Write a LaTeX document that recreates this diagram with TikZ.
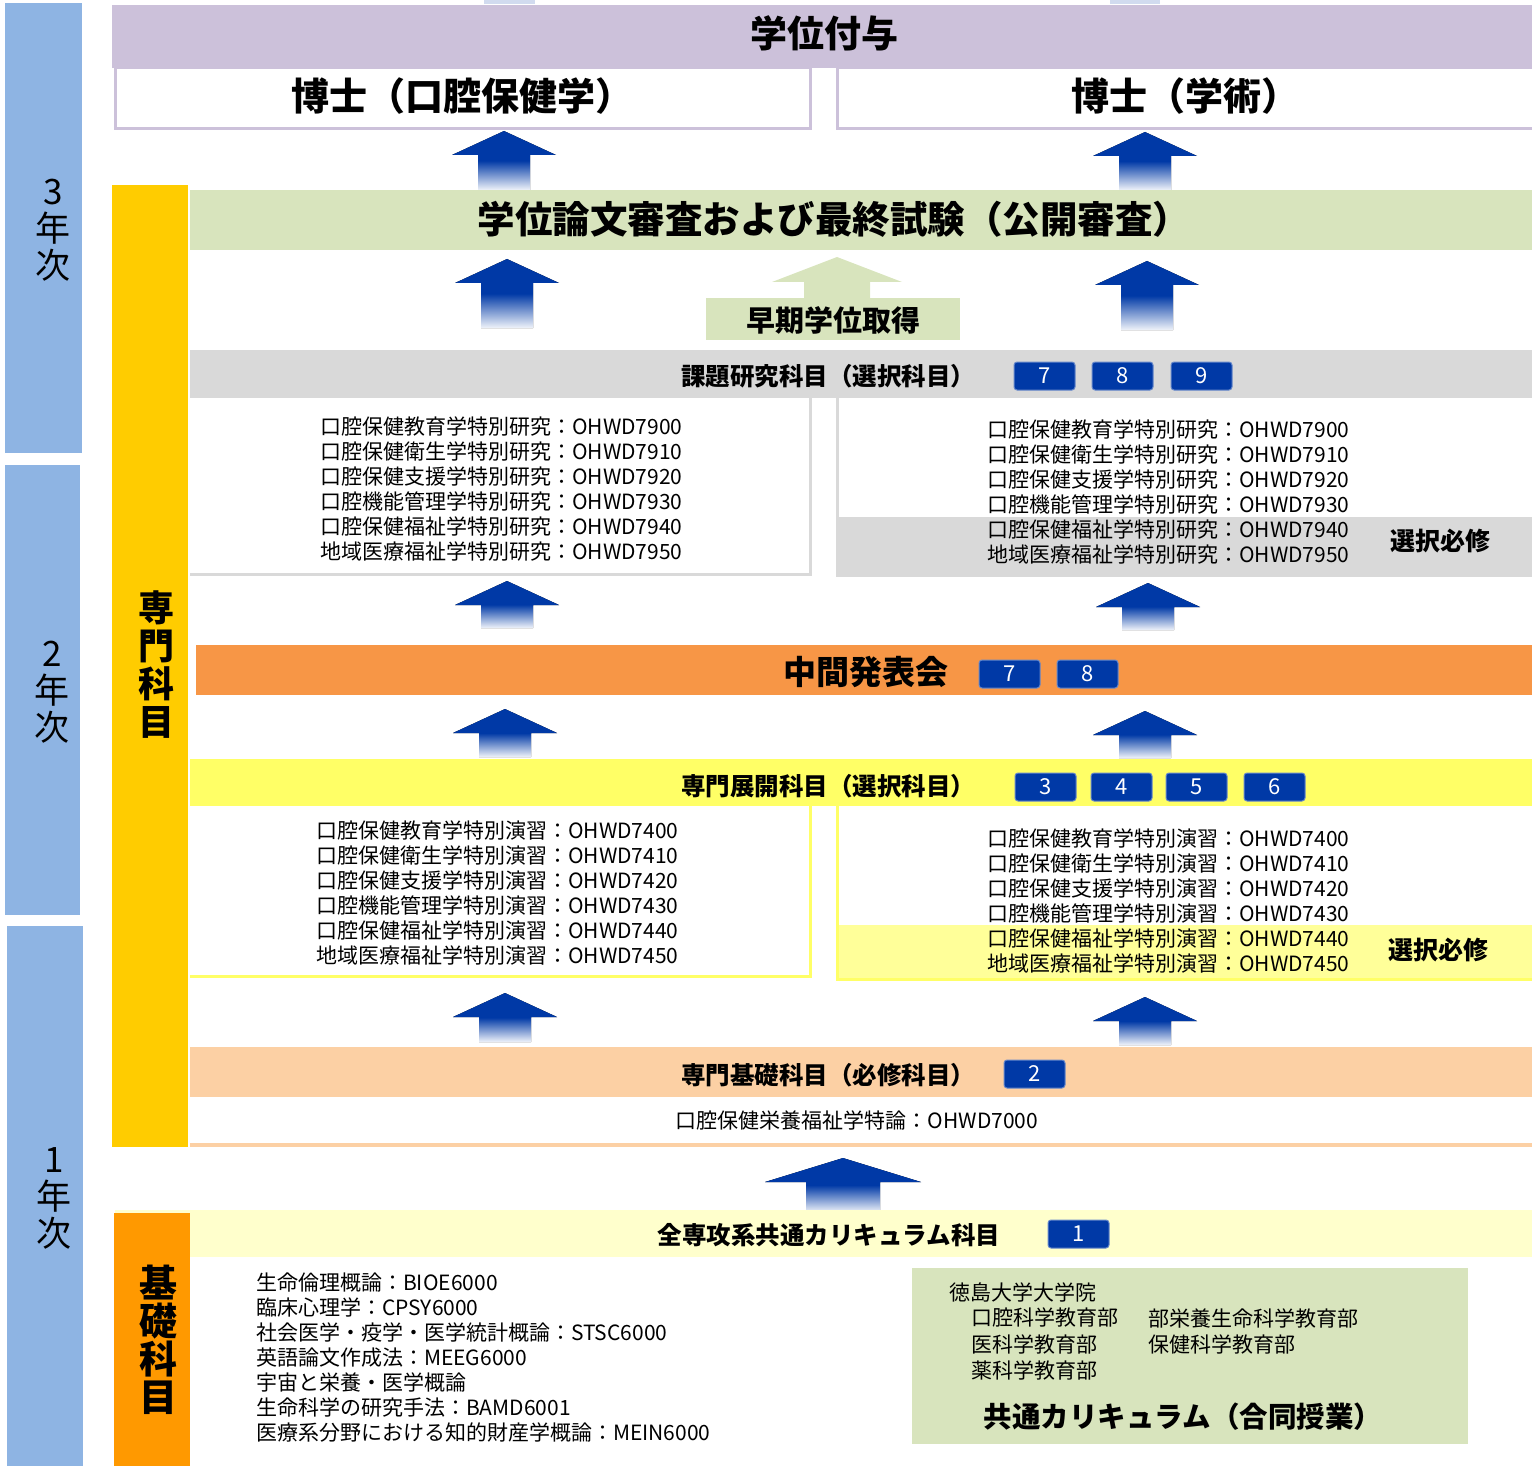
\documentclass[tikz,border=0pt]{standalone}
\usepackage{fontspec}
\setmainfont{Noto Sans CJK JP}
\definecolor{yearblue}{HTML}{8EB4E3}
\definecolor{degpurple}{HTML}{CCC1DA}
\definecolor{senmonyellow}{HTML}{FFCC00}
\definecolor{thesisgreen}{HTML}{D8E4BD}
\definecolor{kadaigray}{HTML}{D9D9D9}
\definecolor{midorange}{HTML}{F79646}
\definecolor{tenkaiyellow}{HTML}{FFFF66}
\definecolor{hissuyellow}{HTML}{FFFF99}
\definecolor{kisopeach}{HTML}{FCD0A4}
\definecolor{commonyellow}{HTML}{FFFFCC}
\definecolor{kisoorange}{HTML}{FF9900}
\definecolor{numblue}{HTML}{0039A6}
\tikzset{
  bar/.style={anchor=north west, inner sep=0, outer sep=0},
  yeartext/.style={align=center, font=\fontsize{35}{37}\selectfont},
  sidetext/.style={align=center, font=\bfseries\fontsize{36}{38}\selectfont},
  bigtitle/.style={font=\bfseries\fontsize{37}{37}\selectfont},
  subtitle/.style={font=\bfseries\fontsize{24.5}{24.5}\selectfont},
  courses/.style={anchor=west, align=left, inner sep=0, font=\fontsize{21}{25}\selectfont},
  numbox/.style={draw=numblue!60!white, line width=1pt, fill=numblue, rounded corners=3pt,
    minimum width=61, minimum height=28, inner sep=0, text=white, font=\fontsize{22}{22}\selectfont},
  arrowfade/.style={top color=numblue, bottom color=numblue!6, middle color=numblue},
}
\begin{document}
\begin{tikzpicture}[x=1pt, y=-1pt]
\useasboundingbox (0,0) rectangle (1532,1466);
\newcommand{\uparr}[5]{%
  \fill[arrowfade] (#1-#4,#2+24) -- (#1,#2) -- (#1+#4,#2+24) -- (#1+#5,#2+24)
    -- (#1+#5,#3) -- (#1-#5,#3) -- (#1-#5,#2+24) -- cycle;}

% year bands
\node[bar, fill=yearblue, minimum width=77, minimum height=450] (y3) at (5,3) {};
\node[bar, fill=yearblue, minimum width=75, minimum height=450] (y2) at (5,465) {};
\node[bar, fill=yearblue, minimum width=76, minimum height=540] (y1) at (7,926) {};
\node[yeartext] (y3t) at (53,230) {3\\年\\次};
\node[yeartext] (y2t) at (52,692) {2\\年\\次};
\node[yeartext] (y1t) at (54,1198) {1\\年\\次};

% faded tails from above
\fill[numblue!18] (484,0) rectangle (535,4);
\fill[numblue!18] (1110,0) rectangle (1160,4);

% degree
\node[bar, fill=degpurple, minimum width=1420, minimum height=63] (degree) at (112,5) {};
\node[bigtitle] (degreet) at (824,33) {学位付与};
\node[draw=degpurple, line width=3pt, fill=white, minimum width=695, minimum height=61, inner sep=0] (hakase1) at (462.5,98.5) {};
\node[draw=degpurple, line width=3pt, fill=white, minimum width=696, minimum height=61, inner sep=0] (hakase2) at (1185,98.5) {};
\node[bigtitle, font=\bfseries\fontsize{38}{38}\selectfont] (hakase1t) at (462,96) {博士（口腔保健学）};
\node[bigtitle, font=\bfseries\fontsize{38}{38}\selectfont] (hakase2t) at (1185,96) {博士（学術）};

% senmon side bar
\node[bar, fill=senmonyellow, minimum width=76, minimum height=962] (senmon) at (112,185) {};
\node[sidetext] (senmont) at (156,665) {専\\門\\科\\目};

% thesis
\uparr{504}{131}{190}{52}{26}
\uparr{1145}{132}{190}{52}{26}
\node[bar, fill=thesisgreen, minimum width=1342, minimum height=60] (thesis) at (190,190) {};
\node[bigtitle, font=\bfseries\fontsize{37.5}{37.5}\selectfont] (thesist) at (834,219) {学位論文審査および最終試験（公開審査）};

% early degree
\fill[thesisgreen] (772,282) -- (837,257) -- (902,282) -- (870,282) -- (870,298) -- (804,298) -- (804,282) -- cycle;
\node[bar, fill=thesisgreen, minimum width=254, minimum height=42] (early) at (706,298) {};
\node[font=\bfseries\fontsize{29}{29}\selectfont] (earlyt) at (833,320) {早期学位取得};
\uparr{507}{259}{328}{52}{26}
\uparr{1147}{261}{330}{52}{26}

% kadai kenkyu
\node[bar, fill=kadaigray, minimum width=1342, minimum height=48] (kadai) at (190,350) {};
\node[subtitle] (kadait) at (828,376) {課題研究科目（選択科目）};
\node[numbox] (k7) at (1044.5,376) {7};
\node[numbox] (k8) at (1122.5,376) {8};
\node[numbox] (k9) at (1201.5,376) {9};
\draw[kadaigray, line width=3pt] (190,574) -| (810,398);
\fill[kadaigray] (836,517) rectangle (1532,577);
\draw[kadaigray, line width=3pt] (837.5,398) -- (837.5,577);
\node[courses] (kenkyu1) at (320,489) {口腔保健教育学特別研究：OHWD7900\\口腔保健衛生学特別研究：OHWD7910\\口腔保健支援学特別研究：OHWD7920\\口腔機能管理学特別研究：OHWD7930\\口腔保健福祉学特別研究：OHWD7940\\地域医療福祉学特別研究：OHWD7950};
\node[courses] (kenkyu2) at (987,492) {口腔保健教育学特別研究：OHWD7900\\口腔保健衛生学特別研究：OHWD7910\\口腔保健支援学特別研究：OHWD7920\\口腔機能管理学特別研究：OHWD7930\\口腔保健福祉学特別研究：OHWD7940\\地域医療福祉学特別研究：OHWD7950};
\node[font=\bfseries\fontsize{25}{25}\selectfont] (sentaku1) at (1440,541) {選択必修};
\uparr{507}{581}{628}{52}{26}
\uparr{1148}{583}{630}{52}{26}

% chukan happyo
\node[bar, fill=midorange, minimum width=1336, minimum height=50] (chukan) at (196,645) {};
\node[font=\bfseries\fontsize{33}{33}\selectfont] (chukant) at (866,672) {中間発表会};
\node[numbox] (c7) at (1009.5,674) {7};
\node[numbox] (c8) at (1087.5,674) {8};
\uparr{505}{709}{757}{52}{26}
\uparr{1145}{711}{758}{52}{26}

% senmon tenkai
\node[bar, fill=tenkaiyellow, minimum width=1342, minimum height=47] (tenkai) at (190,759) {};
\node[subtitle] (tenkait) at (828,786) {専門展開科目（選択科目）};
\node[numbox] (t3) at (1045.5,787) {3};
\node[numbox] (t4) at (1121.5,787) {4};
\node[numbox] (t5) at (1196.5,787) {5};
\node[numbox] (t6) at (1274.5,787) {6};
\draw[tenkaiyellow, line width=3pt] (190,976) -| (810,806);
\fill[hissuyellow] (836,925) rectangle (1532,979);
\draw[tenkaiyellow, line width=3pt] (837.5,806) -- (837.5,979) -- (1532,979);
\node[courses] (engshu1) at (316,893) {口腔保健教育学特別演習：OHWD7400\\口腔保健衛生学特別演習：OHWD7410\\口腔保健支援学特別演習：OHWD7420\\口腔機能管理学特別演習：OHWD7430\\口腔保健福祉学特別演習：OHWD7440\\地域医療福祉学特別演習：OHWD7450};
\node[courses] (engshu2) at (987,901) {口腔保健教育学特別演習：OHWD7400\\口腔保健衛生学特別演習：OHWD7410\\口腔保健支援学特別演習：OHWD7420\\口腔機能管理学特別演習：OHWD7430\\口腔保健福祉学特別演習：OHWD7440\\地域医療福祉学特別演習：OHWD7450};
\node[font=\bfseries\fontsize{25}{25}\selectfont] (sentaku2) at (1438,950) {選択必修};
\uparr{505}{993}{1042}{52}{26}
\uparr{1145}{997}{1045}{52}{26}

% senmon kiso
\node[bar, fill=kisopeach, minimum width=1342, minimum height=50] (kiso) at (190,1047) {};
\node[subtitle] (kisot) at (828,1075) {専門基礎科目（必修科目）};
\node[numbox] (s2) at (1034.5,1074) {2};
\draw[kisopeach, line width=4pt] (190,1145) -- (1532,1145);
\node[font=\fontsize{21}{21}\selectfont] (tokuron) at (857,1120) {口腔保健栄養福祉学特論：OHWD7000};
\uparr{843}{1158}{1212}{78}{37}

% common curriculum
\node[bar, fill=commonyellow, minimum width=1417, minimum height=47] (common) at (115,1210) {};
\node[subtitle] (commont) at (829,1235) {全専攻系共通カリキュラム科目};
\node[numbox] (a1) at (1078.5,1234) {1};
\node[bar, fill=kisoorange, minimum width=76, minimum height=253] (kisokamoku) at (114,1213) {};
\node[sidetext, font=\bfseries\fontsize{38}{38}\selectfont] (kisokamokut) at (158,1340) {基\\礎\\科\\目};
\node[courses] (kiholist) at (256,1358) {生命倫理概論：BIOE6000\\臨床心理学：CPSY6000\\社会医学・疫学・医学統計概論：STSC6000\\英語論文作成法：MEEG6000\\宇宙と栄養・医学概論\\生命科学の研究手法：BAMD6001\\医療系分野における知的財産学概論：MEIN6000};
\node[bar, fill=thesisgreen, minimum width=556, minimum height=176] (joint) at (912,1268) {};
\node[courses] (tokudai) at (949,1292) {徳島大学大学院};
\node[courses, font=\fontsize{21}{26.5}\selectfont] (bu1) at (971,1344) {口腔科学教育部\\医科学教育部\\薬科学教育部};
\node[courses, font=\fontsize{21}{26}\selectfont] (bu2) at (1148,1331) {部栄養生命科学教育部\\保健科学教育部};
\node[font=\bfseries\fontsize{28.5}{28.5}\selectfont] (jointt) at (1183,1417) {共通カリキュラム（合同授業）};
\end{tikzpicture}
\end{document}
